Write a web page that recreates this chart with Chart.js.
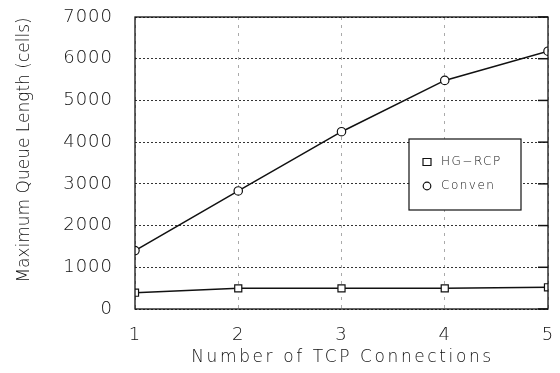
<!DOCTYPE html>
<html>
<head>
<meta charset="utf-8">
<script src="https://cdn.jsdelivr.net/npm/chart.js@4/dist/chart.umd.min.js"></script>
<style>
  html, body { margin: 0; padding: 0; background: #fff; }
  #wrap { width: 560px; height: 373px; }
</style>
</head>
<body>
<div id="wrap"><canvas id="c" width="560" height="373"></canvas></div>
<script>
// Number of TCP connections on the x axis
const connections = [1, 2, 3, 4, 5];
// Maximum queue length (cells) for each scheme
const hgRcp = [390, 495, 495, 495, 520];
const conven = [1400, 2830, 4250, 5480, 6180];
const yTicks = [0, 1000, 2000, 3000, 4000, 5000, 6000, 7000];
const seriesNames = ['HG\u2212RCP', 'Conven'];
const xTitle = 'Number of TCP Connections';
const yTitle = 'Maximum Queue Length (cells)';

const FONT = '"DejaVu Sans", sans-serif';
const WEIGHT = '200';
const INK = '#111';

// Spaced-out plotter-style lettering for the tick labels
const spacing = {
  id: 'spacing',
  beforeDraw(chart) { chart.ctx.letterSpacing = '1px'; },
  beforeLayout(chart) { chart.ctx.letterSpacing = '1px'; }
};

// Frame around the plot area plus short inward ticks on the right edge
const frame = {
  id: 'frame',
  afterDatasetsDraw(chart) {
    const { ctx, chartArea: a, scales } = chart;
    ctx.save();
    ctx.strokeStyle = '#111';
    ctx.lineWidth = 1.3;
    ctx.strokeRect(a.left, a.top, a.right - a.left, a.bottom - a.top);
    ctx.lineWidth = 1.5;
    yTicks.forEach(v => {
      const y = scales.y.getPixelForValue(v);
      ctx.beginPath();
      ctx.moveTo(a.right - 10, y);
      ctx.lineTo(a.right, y);
      ctx.stroke();
    });
    ctx.restore();
  }
};

// Axis titles
const axisTitles = {
  id: 'axisTitles',
  afterDraw(chart) {
    const { ctx, chartArea: a } = chart;
    ctx.save();
    ctx.fillStyle = INK;
    ctx.textAlign = 'center';
    ctx.textBaseline = 'middle';
    ctx.font = WEIGHT + ' 17px ' + FONT;
    ctx.letterSpacing = '2.6px';
    ctx.fillText(xTitle, (a.left + a.right) / 2 + 1, 358);
    ctx.translate(25, 150);
    ctx.rotate(-Math.PI / 2);
    ctx.letterSpacing = '0px';
    ctx.fillText(yTitle, 0, 0);
    ctx.restore();
  }
};

// Boxed legend placed inside the plot, right side
const boxLegend = {
  id: 'boxLegend',
  afterDatasetsDraw(chart) {
    const { ctx, chartArea: a } = chart;
    const x0 = a.right - 139, x1 = a.right - 27;
    const y0 = a.top + 122, y1 = a.top + 193;
    ctx.save();
    ctx.fillStyle = '#fff';
    ctx.fillRect(x0, y0, x1 - x0, y1 - y0);
    ctx.strokeStyle = '#111';
    ctx.lineWidth = 1.2;
    ctx.strokeRect(x0, y0, x1 - x0, y1 - y0);
    ctx.font = WEIGHT + ' 12px ' + FONT;
    ctx.letterSpacing = '1.5px';
    ctx.textBaseline = 'middle';
    ctx.fillStyle = INK;
    chart.data.datasets.forEach((ds, i) => {
      const cy = y0 + 23 + i * 24;
      const mx = x0 + 18;
      ctx.lineWidth = 1.2;
      ctx.strokeStyle = '#111';
      ctx.beginPath();
      if (ds.pointStyle === 'rect') ctx.rect(mx - 4, cy - 3.5, 8, 7);
      else ctx.arc(mx, cy, 3.8, 0, Math.PI * 2);
      ctx.stroke();
      ctx.fillText(ds.label, mx + 14, cy);
    });
    ctx.restore();
  }
};

new Chart(document.getElementById('c'), {
  type: 'line',
  data: {
    labels: connections,
    datasets: [
      {
        label: seriesNames[0],
        data: connections.map((c, i) => ({ x: c, y: hgRcp[i] })),
        borderColor: '#111', borderWidth: 1.5,
        pointStyle: 'rect', pointRadius: 5, pointBorderWidth: 1.2,
        pointBackgroundColor: '#fff', pointBorderColor: '#111',
        tension: 0
      },
      {
        label: seriesNames[1],
        data: connections.map((c, i) => ({ x: c, y: conven[i] })),
        borderColor: '#111', borderWidth: 1.5,
        pointStyle: 'circle', pointRadius: 4.2, pointBorderWidth: 1.2,
        pointBackgroundColor: '#fff', pointBorderColor: '#111',
        tension: 0
      }
    ]
  },
  options: {
    responsive: false,
    animation: false,
    layout: { padding: { top: 17, right: 12, left: 0, bottom: 0 } },
    plugins: { legend: { display: false }, tooltip: { enabled: false } },
    scales: {
      x: {
        type: 'linear', min: 1, max: 5,
        afterFit(s) { s.height = 64; s.paddingLeft = 0; s.paddingRight = 0; },
        afterBuildTicks(s) { s.ticks = connections.map(v => ({ value: v })); },
        border: { display: false, dash: [3, 5] },
        grid: { color: '#aaa', lineWidth: 1, drawTicks: false },
        ticks: { color: INK, font: { family: FONT, size: 18, weight: WEIGHT }, padding: 16,
                 maxRotation: 0, callback: v => String(v) }
      },
      y: {
        min: 0, max: 7000,
        afterFit(s) { s.width = 135; s.paddingTop = 0; s.paddingBottom = 0; },
        afterBuildTicks(s) { s.ticks = yTicks.map(v => ({ value: v })); },
        border: { display: false, dash: [2, 2] },
        grid: { color: '#333', lineWidth: 1, drawTicks: false },
        ticks: { color: INK, font: { family: FONT, size: 18, weight: WEIGHT }, padding: 22,
                 callback: v => String(v) }
      }
    }
  },
  plugins: [spacing, frame, axisTitles, boxLegend]
});
</script>
</body>
</html>
